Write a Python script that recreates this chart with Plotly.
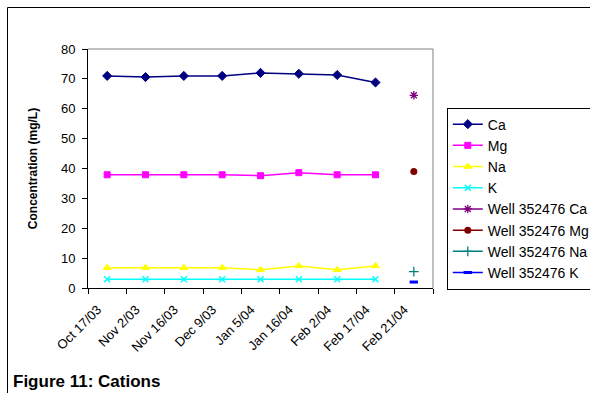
import plotly.graph_objects as go

# Sampling dates
dates = ["Oct 17/03", "Nov 2/03", "Nov 16/03", "Dec 9/03", "Jan 5/04",
         "Jan 16/04", "Feb 2/04", "Feb 17/04", "Feb 21/04"]

# Cation concentrations (mg/L) for the first eight sampling dates
ca = [71.0, 70.6, 71.0, 71.0, 72.0, 71.7, 71.3, 68.8]
mg = [37.9, 37.9, 37.9, 37.9, 37.6, 38.6, 37.9, 37.9]
na = [6.8, 6.8, 6.8, 6.8, 6.1, 7.4, 6.1, 7.4]
k = [2.9, 2.9, 2.9, 2.9, 2.9, 2.9, 2.9, 2.9]

# Well 352476 sample, taken on the last date
well_ca = [64.5]
well_mg = [39.0]
well_na = [5.5]
well_k = [2.0]

y_ticks = [0, 10, 20, 30, 40, 50, 60, 70, 80]

FONT = "Liberation Sans, Arial, sans-serif"

xs = list(range(1, len(ca) + 1))
well_x = [len(dates)]

fig = go.Figure()

series = [
    ("Ca", xs, ca, "#000080", "diamond", 7, 1),
    ("Mg", xs, mg, "#FF00FF", "square", 6, 1),
    ("Na", xs, na, "#FFFF00", "triangle-up", 7, 1),
    ("K", xs, k, "#00FFFF", "x-thin-open", 6, 1.5),
]
for name, x, y, color, sym, size, mlw in series:
    fig.add_trace(go.Scatter(
        x=x, y=y, name=name, mode="lines+markers",
        line=dict(color=color, width=1.5),
        marker=dict(symbol=sym, size=size, color=color,
                    line=dict(color=color, width=mlw)),
    ))

wells = [
    ("Well 352476 Ca", well_ca, "#800080", "asterisk-open", 7, 1.3),
    ("Well 352476 Mg", well_mg, "#800000", "circle", 7, 0),
    ("Well 352476 Na", well_na, "#008080", "cross-thin-open", 7, 1.3),
    ("Well 352476 K", well_k, "#0000FF", "line-ew-open", 6, 3),
]
for name, y, color, sym, size, mlw in wells:
    fig.add_trace(go.Scatter(
        x=well_x, y=y, name=name, mode="lines+markers",
        line=dict(color=color, width=1.5),
        marker=dict(symbol=sym, size=size, color=color,
                    line=dict(color=color, width=mlw)),
    ))

# Date labels sit slightly left of each category centre
label_shift = 0.25

fig.update_layout(
    width=590, height=393,
    margin=dict(l=88, r=157, t=49, b=105, autoexpand=False),
    paper_bgcolor="white", plot_bgcolor="white",
    font=dict(family=FONT, size=13, color="black"),
    showlegend=True,
    legend=dict(
        x=1.04, xanchor="left", y=0.755, yanchor="top",
        bordercolor="black", borderwidth=1,
        font=dict(family=FONT, size=14, color="black"),
        tracegroupgap=0, itemwidth=30,
    ),
    xaxis=dict(
        range=[0.5, len(dates) + 0.5],
        tickmode="array",
        tickvals=[i + 1 - label_shift for i in range(len(dates))],
        ticktext=dates,
        tickangle=-45,
        ticks="",
        ticklabelstandoff=8,
        showgrid=False, zeroline=False,
        showline=True, linecolor="black", linewidth=1,
        tickfont=dict(family=FONT, size=13),
        minor=dict(
            tickvals=[i + 0.5 for i in range(0, len(dates) + 1)],
            ticks="outside", ticklen=5, tickcolor="black", tickwidth=1,
            showgrid=False,
        ),
        fixedrange=True,
    ),
    yaxis=dict(
        range=[0, 80],
        tickmode="array", tickvals=y_ticks,
        ticks="outside", ticklen=5, tickcolor="black",
        ticklabelstandoff=4,
        showgrid=False, zeroline=False,
        showline=True, linecolor="black", linewidth=1,
        tickfont=dict(family=FONT, size=13),
        title=dict(text="<b>Concentration (mg/L)</b>",
                   font=dict(family=FONT, size=12), standoff=20),
    ),
)

# Gray plot-area frame on the top and right edges
fig.add_shape(type="line", xref="paper", yref="paper", x0=0, x1=1, y0=1, y1=1,
              line=dict(color="#808080", width=1))
fig.add_shape(type="line", xref="paper", yref="paper", x0=1, x1=1, y0=0, y1=1,
              line=dict(color="#808080", width=1))

# Outer chart-area border (top and left)
px_x = lambda px: (px - 88) / (590 - 88 - 157)
px_y = lambda py: (393 - 105 - py) / (393 - 49 - 105)
fig.add_shape(type="line", xref="paper", yref="paper",
              x0=px_x(7.5), x1=px_x(592), y0=px_y(7.5), y1=px_y(7.5),
              line=dict(color="black", width=1))
fig.add_shape(type="line", xref="paper", yref="paper",
              x0=px_x(7.5), x1=px_x(7.5), y0=px_y(7.5), y1=px_y(395),
              line=dict(color="black", width=1))

fig.add_annotation(
    text="<b>Figure 11: Cations</b>", xref="paper", yref="paper",
    x=px_x(11), y=px_y(381), xanchor="left", yanchor="middle",
    showarrow=False, font=dict(family=FONT, size=17, color="black"),
)

fig.write_html("out.html")
